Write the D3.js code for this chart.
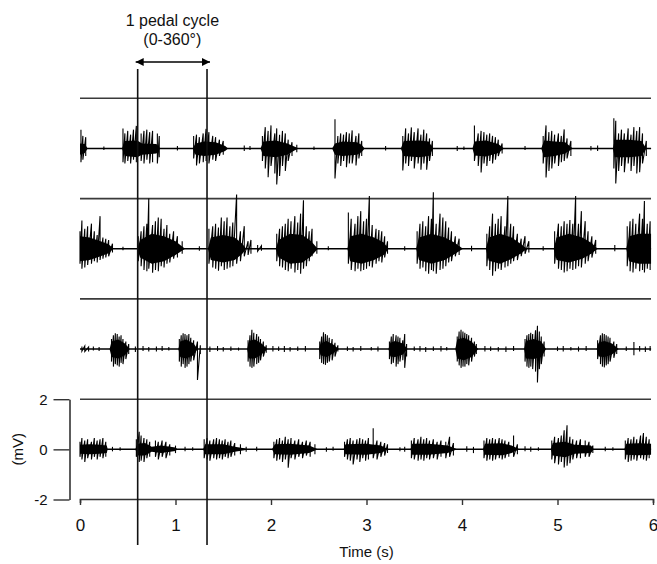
<!DOCTYPE html>
<html>
<head>
<meta charset="utf-8">
<script src="https://cdn.jsdelivr.net/npm/d3@7"></script>
<style>
  html, body { margin: 0; padding: 0; background: #fff; }
  svg { display: block; font-family: "Liberation Sans", Arial, sans-serif; }
</style>
</head>
<body>
<svg id="chart" width="657" height="564"></svg>
<script>
// ---------------- DATA ----------------
const xTicks = [0, 1, 2, 3, 4, 5, 6];
const yTicks = [-2, 0, 2];
const xLabel = "Time (s)";
const yLabel = "(mV)";
const cycleLabel = ["1 pedal cycle", "(0-360°)"];
const cycleBounds = [0.604, 1.33];   // s

// dense burst cores: [time s, upper mV, lower mV]
const trace1Env = [
  [[0,0.2,-0.25],[0.05,0.18,-0.18],[0.08,0,0]],
  [[0.44,0,0],[0.47,0.3,-0.3],[0.6,0.32,-0.35],[0.65,0.2,-0.25],[0.8,0.18,-0.2],[0.84,0,0]],
  [[1.18,0,0],[1.21,0.2,-0.25],[1.3,0.28,-0.3],[1.42,0.25,-0.25],[1.52,0.1,-0.1],[1.55,0,0]],
  [[1.89,0,0],[1.92,0.28,-0.3],[2.05,0.32,-0.35],[2.17,0.2,-0.25],[2.25,0.07,-0.07],[2.29,0,0]],
  [[2.64,0,0],[2.67,0.2,-0.25],[2.75,0.28,-0.3],[2.9,0.25,-0.25],[2.95,0.14,-0.14],[2.98,0,0]],
  [[3.36,0,0],[3.39,0.3,-0.3],[3.55,0.32,-0.35],[3.65,0.28,-0.3],[3.7,0,0]],
  [[4.11,0,0],[4.13,0.28,-0.28],[4.25,0.32,-0.32],[4.38,0.18,-0.18],[4.44,0,0]],
  [[4.83,0,0],[4.86,0.32,-0.35],[4.97,0.28,-0.3],[5.08,0.25,-0.2],[5.16,0,0]],
  [[5.58,0,0],[5.6,0.35,-0.35],[5.75,0.35,-0.35],[5.88,0.3,-0.3],[5.93,0,0]]
];
// individual spikes: [time s, peak mV, trough mV]
const trace1Spikes = [
  [0.01,0.75,-0.55],[0.03,0.5,-0.45],[0.06,0.45,-0.3],
  [0.45,0.8,-0.55],[0.47,0.6,-0.6],[0.50,0.7,-0.5],[0.53,0.55,-0.6],[0.56,0.75,-0.45],[0.59,0.9,-0.55],[0.64,0.6,-0.5],[0.67,0.7,-0.6],[0.70,0.75,-0.45],[0.73,0.65,-0.6],[0.76,0.7,-0.55],[0.81,0.6,-0.6],[0.83,0.5,-0.35],
  [1.19,0.5,-0.4],[1.22,0.55,-0.68],[1.25,0.45,-0.6],[1.29,0.6,-0.55],[1.32,0.78,-0.5],[1.35,0.65,-0.6],[1.39,0.5,-0.45],[1.42,0.45,-0.5],[1.46,0.35,-0.3],[1.50,0.3,-0.25],
  [1.91,0.5,-0.5],[1.94,0.85,-0.8],[1.97,0.7,-1.15],[2.00,0.92,-0.7],[2.04,0.6,-1.0],[2.06,0.8,-1.44],[2.09,0.55,-1.1],[2.12,0.7,-0.7],[2.15,0.6,-0.9],[2.18,0.35,-0.5],[2.22,0.25,-0.3],[2.27,0.15,-0.15],
  [2.67,1.16,-1.2],[2.70,0.5,-0.6],[2.73,0.6,-0.7],[2.76,0.55,-0.5],[2.79,0.65,-0.75],[2.82,0.6,-0.6],[2.85,0.72,-0.6],[2.89,0.5,-0.68],[2.92,0.6,-0.4],[2.95,0.3,-0.3],
  [3.38,0.5,-0.88],[3.41,0.8,-0.6],[3.44,0.6,-0.7],[3.47,0.84,-0.5],[3.50,0.65,-0.8],[3.54,0.8,-0.6],[3.57,0.55,-0.85],[3.60,0.75,-0.6],[3.63,0.6,-0.85],[3.66,0.4,-0.5],[3.69,0.3,-0.3],
  [4.13,0.92,-0.5],[4.17,0.6,-0.7],[4.20,0.7,-0.96],[4.23,0.65,-0.6],[4.26,0.55,-0.7],[4.29,0.6,-0.5],[4.32,0.5,-0.6],[4.35,0.45,-0.45],[4.38,0.35,-0.3],[4.42,0.2,-0.2],
  [4.85,0.5,-0.6],[4.88,0.92,-1.16],[4.91,0.65,-0.9],[4.94,0.7,-0.8],[4.97,0.55,-0.6],[5.01,0.6,-0.7],[5.04,0.5,-0.55],[5.07,0.76,-0.5],[5.10,0.4,-0.4],[5.14,0.3,-0.3],
  [5.59,1.2,-0.8],[5.61,1.1,-1.4],[5.64,0.6,-0.9],[5.67,0.75,-0.7],[5.70,0.6,-0.95],[5.74,0.8,-0.6],[5.77,0.55,-0.9],[5.80,0.85,-0.7],[5.83,0.7,-1.0],[5.86,0.85,-0.95],[5.89,0.6,-0.6],[5.93,0.3,-0.3],
  [0.25,0.08,-0.06],[1.02,0.1,-0.08],[1.72,0.12,-0.1],[1.78,0.1,-0.06],[2.45,0.08,-0.06],[3.2,0.1,-0.08],[3.95,0.1,-0.1],[4.02,0.08,-0.06],[4.66,0.1,-0.06],[5.35,0.1,-0.08],[5.42,0.12,-0.1]
];

const trace2Env = [
  [[0,0.5,-0.5],[0.1,0.45,-0.45],[0.2,0.32,-0.32],[0.3,0.18,-0.18],[0.35,0,0]],
  [[0.6,0,0],[0.63,0.35,-0.35],[0.75,0.6,-0.6],[0.88,0.5,-0.5],[1.0,0.3,-0.25],[1.1,0,0]],
  [[1.34,0,0],[1.37,0.45,-0.45],[1.5,0.55,-0.55],[1.62,0.45,-0.45],[1.7,0.2,-0.2],[1.74,0,0]],
  [[2.05,0,0],[2.08,0.35,-0.35],[2.2,0.6,-0.6],[2.33,0.55,-0.55],[2.42,0.3,-0.3],[2.49,0,0]],
  [[2.8,0,0],[2.83,0.5,-0.5],[2.95,0.6,-0.6],[3.08,0.45,-0.45],[3.18,0.25,-0.25],[3.23,0,0]],
  [[3.52,0,0],[3.55,0.45,-0.45],[3.68,0.6,-0.6],[3.82,0.45,-0.45],[3.92,0.25,-0.22],[4.01,0,0]],
  [[4.25,0,0],[4.28,0.45,-0.48],[4.4,0.6,-0.6],[4.52,0.45,-0.4],[4.62,0.18,-0.18],[4.68,0,0]],
  [[4.96,0,0],[4.99,0.45,-0.45],[5.12,0.6,-0.55],[5.26,0.45,-0.4],[5.36,0.22,-0.18],[5.42,0,0]],
  [[5.72,0,0],[5.75,0.5,-0.5],[5.85,0.6,-0.6],[5.98,0.6,-0.6]]
];
const trace2Spikes = [
  [0.00,0.7,-0.6],[0.02,1.13,-0.8],[0.05,0.8,-0.75],[0.08,0.9,-0.65],[0.12,1.0,-0.6],[0.15,0.7,-0.5],[0.18,0.55,-0.55],[0.21,1.3,-0.45],[0.24,0.45,-0.4],[0.27,0.4,-0.35],[0.30,0.35,-0.3],[0.34,0.2,-0.15],
  [0.61,0.5,-0.5],[0.64,0.7,-0.7],[0.67,0.9,-0.85],[0.70,1.0,-0.9],[0.72,2.0,-0.8],[0.76,0.95,-0.96],[0.79,1.1,-0.85],[0.82,1.25,-0.9],[0.85,1.2,-0.7],[0.88,0.8,-0.75],[0.91,0.95,-0.6],[0.94,0.6,-0.55],[0.98,0.7,-0.4],[1.02,0.5,-0.35],[1.07,0.3,-0.2],
  [1.35,0.8,-0.6],[1.39,0.9,-0.75],[1.42,1.0,-0.8],[1.45,0.85,-0.88],[1.48,1.25,-0.7],[1.51,1.1,-0.85],[1.54,1.25,-0.8],[1.57,0.9,-0.75],[1.60,1.05,-0.7],[1.64,2.16,-0.6],[1.68,0.7,-0.5],[1.72,0.9,-0.3],[1.76,0.3,-0.25],[1.79,0.35,-0.2],
  [2.06,0.6,-0.5],[2.09,0.8,-0.7],[2.12,0.9,-0.75],[2.15,1.0,-0.85],[2.18,1.2,-0.9],[2.21,1.1,-0.8],[2.25,1.3,-0.95],[2.28,1.05,-0.85],[2.31,1.4,-1.0],[2.34,1.93,-0.8],[2.37,0.9,-0.7],[2.40,0.7,-0.5],[2.43,0.8,-0.3],[2.48,0.3,-0.2],
  [2.81,1.45,-0.6],[2.84,1.2,-0.85],[2.88,1.0,-0.9],[2.91,1.3,-0.8],[2.94,1.5,-0.9],[2.97,1.1,-0.85],[3.00,1.2,-0.8],[3.03,2.1,-0.7],[3.06,0.95,-0.75],[3.10,0.8,-0.6],[3.13,0.75,-0.5],[3.16,0.7,-0.55],[3.19,0.5,-0.35],[3.22,0.3,-0.2],
  [3.53,0.7,-0.6],[3.56,1.0,-0.8],[3.59,1.1,-0.75],[3.62,0.9,-0.9],[3.65,1.3,-1.0],[3.68,1.2,-0.85],[3.70,2.25,-0.9],[3.73,1.0,-1.0],[3.77,1.4,-0.85],[3.80,1.25,-0.8],[3.83,1.1,-0.7],[3.86,0.85,-0.55],[3.89,0.7,-0.5],[3.93,0.5,-0.3],[3.97,0.4,-0.25],
  [4.26,0.6,-0.7],[4.29,0.9,-0.85],[4.32,1.4,-1.08],[4.35,1.0,-0.9],[4.38,1.2,-0.8],[4.41,1.3,-0.85],[4.45,0.9,-0.75],[4.48,2.1,-0.7],[4.51,1.0,-0.6],[4.54,0.9,-0.5],[4.58,0.6,-0.45],[4.62,0.4,-0.3],[4.66,0.5,-0.2],[4.70,0.3,-0.15],
  [4.97,0.7,-0.6],[5.01,1.0,-0.8],[5.04,0.9,-0.85],[5.07,1.1,-0.95],[5.10,1.0,-0.9],[5.13,1.15,-0.8],[5.16,1.0,-0.85],[5.19,2.1,-0.8],[5.22,1.0,-0.7],[5.25,1.5,-0.75],[5.29,1.1,-0.6],[5.32,0.7,-0.5],[5.36,0.5,-0.35],[5.40,0.35,-0.2],
  [5.73,0.9,-0.7],[5.76,1.1,-0.9],[5.79,1.2,-0.95],[5.82,1.0,-0.8],[5.86,1.4,-0.9],[5.89,1.2,-0.85],[5.91,1.9,-0.95],[5.94,1.0,-0.8],[5.97,1.1,-0.85],
  [0.45,0.08,-0.06],[1.25,0.1,-0.08],[1.86,0.15,-0.1],[1.9,0.12,-0.08],[2.6,0.1,-0.06],[3.4,0.1,-0.08],[4.1,0.12,-0.1],[4.85,0.1,-0.08],[5.6,0.15,-0.1]
];

const trace3Env = [
  [[0.31,0,0],[0.33,0.3,-0.32],[0.4,0.38,-0.38],[0.47,0.22,-0.25],[0.52,0,0]],
  [[1.03,0,0],[1.05,0.3,-0.32],[1.11,0.38,-0.38],[1.19,0.22,-0.25],[1.23,0,0]],
  [[1.75,0,0],[1.77,0.32,-0.38],[1.83,0.38,-0.38],[1.9,0.22,-0.22],[1.96,0,0]],
  [[2.5,0,0],[2.52,0.22,-0.25],[2.58,0.32,-0.32],[2.65,0.18,-0.18],[2.71,0,0]],
  [[3.23,0,0],[3.25,0.25,-0.3],[3.3,0.32,-0.32],[3.38,0.22,-0.22],[3.43,0,0]],
  [[3.93,0,0],[3.95,0.38,-0.38],[4.02,0.45,-0.45],[4.1,0.3,-0.32],[4.17,0,0]],
  [[4.65,0,0],[4.67,0.32,-0.38],[4.75,0.4,-0.4],[4.83,0.3,-0.32],[4.88,0,0]],
  [[5.41,0,0],[5.43,0.25,-0.3],[5.49,0.32,-0.32],[5.57,0.22,-0.22],[5.64,0,0]]
];
const trace3Spikes = [
  [0.33,0.4,-0.5],[0.35,0.55,-0.7],[0.37,0.63,-0.6],[0.39,0.6,-0.65],[0.41,0.5,-0.7],[0.43,0.55,-0.55],[0.45,0.4,-0.6],[0.48,0.3,-0.4],[0.51,0.2,-0.2],
  [1.04,0.4,-0.5],[1.06,0.55,-0.7],[1.08,0.63,-0.6],[1.10,0.6,-0.75],[1.12,0.55,-0.7],[1.14,0.6,-0.6],[1.16,0.45,-0.5],[1.19,0.35,-0.45],[1.23,0.3,-1.23],[1.26,0.15,-0.2],
  [1.76,0.35,-0.5],[1.78,0.55,-0.7],[1.80,0.77,-0.75],[1.82,0.65,-0.7],[1.85,0.6,-0.6],[1.87,0.5,-0.55],[1.89,0.4,-0.45],[1.92,0.3,-0.3],[1.95,0.15,-0.15],
  [2.51,0.3,-0.4],[2.53,0.5,-0.55],[2.55,0.67,-0.6],[2.57,0.6,-0.63],[2.59,0.55,-0.55],[2.61,0.45,-0.5],[2.64,0.4,-0.45],[2.67,0.25,-0.3],[2.70,0.15,-0.1],
  [3.24,0.3,-0.4],[3.26,0.5,-0.6],[3.28,0.6,-0.55],[3.31,0.55,-0.7],[3.33,0.5,-0.6],[3.35,0.45,-0.5],[3.38,0.35,-0.45],[3.40,0.6,-0.75],[3.42,0.2,-0.3],
  [3.95,0.5,-0.5],[3.97,0.7,-0.65],[3.99,0.77,-0.75],[4.01,0.7,-0.7],[4.03,0.65,-0.7],[4.05,0.6,-0.6],[4.07,0.55,-0.65],[4.10,0.45,-0.5],[4.13,0.3,-0.3],[4.15,0.2,-0.2],
  [4.66,0.4,-0.5],[4.68,0.55,-0.7],[4.70,0.6,-0.75],[4.72,0.65,-0.7],[4.74,0.6,-0.8],[4.77,0.75,-0.9],[4.79,0.93,-1.33],[4.81,0.7,-0.8],[4.83,0.5,-0.6],[4.86,0.3,-0.3],
  [5.42,0.35,-0.4],[5.45,0.55,-0.6],[5.47,0.63,-0.7],[5.49,0.6,-0.73],[5.51,0.55,-0.65],[5.53,0.5,-0.6],[5.55,0.45,-0.5],[5.59,0.3,-0.35],[5.62,0.2,-0.2],
  [5.80,0.28,-0.25],
  [0.02,0.1,-0.08],[0.05,0.12,-0.1],[0.09,0.08,-0.1],[0.14,0.1,-0.06],[0.2,0.08,-0.08],[0.58,0.1,-0.12],[0.66,0.12,-0.08],[0.72,0.08,-0.1],[0.8,0.1,-0.1],[0.86,0.12,-0.08],[0.93,0.08,-0.06],
  [1.36,0.1,-0.12],[1.44,0.12,-0.08],[1.5,0.08,-0.1],[1.58,0.1,-0.08],[1.66,0.06,-0.06],[2.02,0.12,-0.1],[2.08,0.1,-0.08],[2.14,0.12,-0.12],[2.2,0.08,-0.1],[2.28,0.1,-0.08],[2.36,0.12,-0.1],
  [2.8,0.1,-0.08],[2.86,0.08,-0.1],[2.94,0.12,-0.08],[3.05,0.08,-0.06],[3.12,0.1,-0.1],[3.5,0.1,-0.08],[3.56,0.12,-0.1],[3.62,0.08,-0.12],[3.7,0.1,-0.08],[3.78,0.12,-0.1],[3.84,0.08,-0.06],
  [4.24,0.12,-0.1],[4.3,0.1,-0.08],[4.38,0.08,-0.1],[4.46,0.1,-0.12],[4.54,0.12,-0.08],[5.0,0.1,-0.08],[5.06,0.12,-0.1],[5.14,0.08,-0.06],[5.22,0.1,-0.1],[5.3,0.12,-0.08],
  [5.72,0.1,-0.08],[5.86,0.12,-0.1],[5.92,0.1,-0.12],[5.97,0.12,-0.08]
];

const trace4Env = [
  [[0,0.18,-0.18],[0.1,0.2,-0.2],[0.2,0.18,-0.18],[0.28,0.15,-0.15],[0.29,0,0]],
  [[0.58,0,0],[0.6,0.22,-0.25],[0.68,0.25,-0.25],[0.75,0.1,-0.1],[0.85,0.15,-0.15],[1.0,0.07,-0.07],[1.02,0,0]],
  [[1.29,0,0],[1.31,0.2,-0.2],[1.5,0.2,-0.2],[1.62,0.1,-0.1],[1.72,0.04,-0.04],[1.76,0,0]],
  [[2.01,0,0],[2.04,0.2,-0.2],[2.2,0.22,-0.22],[2.4,0.15,-0.15],[2.49,0,0]],
  [[2.76,0,0],[2.78,0.2,-0.2],[3.0,0.22,-0.22],[3.15,0.15,-0.15],[3.23,0,0]],
  [[3.46,0,0],[3.48,0.22,-0.22],[3.65,0.22,-0.22],[3.85,0.15,-0.15],[3.95,0,0]],
  [[4.22,0,0],[4.24,0.22,-0.22],[4.42,0.24,-0.24],[4.52,0.15,-0.15],[4.6,0,0]],
  [[4.93,0,0],[4.95,0.25,-0.25],[5.08,0.3,-0.32],[5.18,0.18,-0.18],[5.35,0.15,-0.15],[5.38,0,0]],
  [[5.7,0,0],[5.72,0.22,-0.22],[5.85,0.24,-0.24],[5.98,0.22,-0.22]]
];
const trace4Spikes = [
  [0.00,0.3,-0.3],[0.02,0.45,-0.4],[0.05,0.35,-0.5],[0.08,0.4,-0.35],[0.12,0.3,-0.4],[0.15,0.45,-0.3],[0.18,0.35,-0.4],[0.21,0.4,-0.3],[0.24,0.45,-0.35],[0.27,0.3,-0.3],
  [0.59,0.4,-0.3],[0.62,0.7,-0.5],[0.64,0.55,-0.45],[0.67,0.45,-0.5],[0.70,0.4,-0.35],[0.73,0.3,-0.3],[0.79,0.35,-0.3],[0.82,0.3,-0.4],[0.86,0.35,-0.3],[0.90,0.3,-0.35],[0.94,0.2,-0.25],[1.00,0.15,-0.15],
  [1.30,0.4,-0.35],[1.33,0.45,-0.4],[1.36,0.35,-0.45],[1.40,0.4,-0.35],[1.43,0.45,-0.4],[1.46,0.4,-0.35],[1.49,0.35,-0.4],[1.52,0.4,-0.3],[1.55,0.3,-0.35],[1.58,0.35,-0.3],[1.62,0.25,-0.25],[1.68,0.2,-0.2],[1.74,0.1,-0.1],
  [2.03,0.3,-0.35],[2.06,0.4,-0.45],[2.09,0.45,-0.4],[2.12,0.35,-0.5],[2.15,0.5,-0.4],[2.18,0.4,-0.73],[2.21,0.45,-0.35],[2.25,0.35,-0.4],[2.29,0.4,-0.3],[2.33,0.3,-0.35],[2.37,0.35,-0.25],[2.41,0.3,-0.3],[2.46,0.2,-0.2],
  [2.77,0.3,-0.3],[2.80,0.4,-0.4],[2.83,0.45,-0.45],[2.86,0.35,-0.6],[2.90,0.4,-0.4],[2.93,0.45,-0.5],[2.96,0.4,-0.35],[2.99,0.35,-0.45],[3.02,0.45,-0.4],[3.07,0.84,-0.35],[3.11,0.35,-0.4],[3.15,0.3,-0.3],[3.19,0.25,-0.25],[3.22,0.2,-0.15],
  [3.47,0.35,-0.35],[3.50,0.45,-0.4],[3.54,0.4,-0.45],[3.57,0.5,-0.4],[3.60,0.4,-0.45],[3.63,0.45,-0.35],[3.66,0.35,-0.4],[3.70,0.4,-0.35],[3.74,0.3,-0.4],[3.78,0.35,-0.3],[3.83,0.3,-0.35],[3.87,0.5,-0.3],[3.91,0.25,-0.25],
  [4.23,0.35,-0.35],[4.26,0.45,-0.45],[4.29,0.4,-0.4],[4.32,0.45,-0.45],[4.35,0.4,-0.4],[4.39,0.45,-0.35],[4.42,0.4,-0.4],[4.45,0.35,-0.35],[4.49,0.3,-0.3],[4.54,0.55,-0.3],[4.58,0.2,-0.2],
  [4.94,0.35,-0.4],[4.97,0.5,-0.55],[5.01,0.45,-0.6],[5.04,0.55,-0.5],[5.07,0.76,-0.72],[5.10,0.96,-0.65],[5.13,0.5,-0.55],[5.16,0.4,-0.4],[5.20,0.35,-0.35],[5.24,0.4,-0.35],[5.29,0.35,-0.3],[5.33,0.3,-0.3],[5.37,0.15,-0.15],
  [5.71,0.35,-0.4],[5.74,0.45,-0.5],[5.77,0.4,-0.45],[5.80,0.5,-0.4],[5.83,0.4,-0.45],[5.87,0.55,-0.35],[5.90,0.65,-0.4],[5.93,0.5,-0.45],[5.96,0.4,-0.35],
  [0.34,0.1,-0.08],[0.42,0.08,-0.06],[1.1,0.1,-0.08],[1.18,0.08,-0.06],[1.85,0.1,-0.08],[2.58,0.08,-0.1],[2.65,0.1,-0.06],[3.35,0.08,-0.08],[3.4,0.1,-0.1],[4.05,0.12,-0.1],[4.12,0.1,-0.15],[4.66,0.12,-0.08],[4.72,0.1,-0.1],[4.8,0.08,-0.06],[5.5,0.1,-0.08],[5.58,0.08,-0.06]
];

const traces = [
  {env: trace1Env, spikes: trace1Spikes},
  {env: trace2Env, spikes: trace2Spikes},
  {env: trace3Env, spikes: trace3Spikes},
  {env: trace4Env, spikes: trace4Spikes}
];

// ---------------- LAYOUT ----------------
const svg = d3.select("#chart");
const x = d3.scaleLinear().domain([0, 6]).range([80, 653]);
const panelTop0 = 98.3, panelH = 100.3;
const yFor = i => d3.scaleLinear().domain([-2, 2]).range([panelTop0 + panelH * (i + 1), panelTop0 + panelH * i]);
const fmt = d => String(d);

// separator lines (at +2 mV of each panel)
traces.forEach((tr, i) => {
  const y = yFor(i);
  svg.append("line")
    .attr("x1", x(0)).attr("x2", x(6) - 2)
    .attr("y1", y(2)).attr("y2", y(2))
    .attr("stroke", "#3a3a3a").attr("stroke-width", 1.6);
});

// group spikes into runs (a new run starts after a gap longer than 0.045 s)
function runs(spikes) {
  const s = spikes.slice().sort((a, b) => a[0] - b[0]);
  const out = [];
  let cur = [];
  s.forEach(d => {
    if (cur.length && d[0] - cur[cur.length - 1][0] > 0.045) { out.push(cur); cur = []; }
    cur.push(d);
  });
  if (cur.length) out.push(cur);
  return out;
}

// traces
traces.forEach((tr, i) => {
  const y = yFor(i);
  const g = svg.append("g");
  // baseline
  g.append("path")
    .datum([[0, 0], [5.98, 0]])
    .attr("d", d3.line().x(d => x(d[0])).y(d => y(d[1])))
    .attr("stroke", "#000").attr("stroke-width", 1.5).attr("fill", "none");
  // burst cores
  const area = d3.area().x(d => x(d[0])).y0(d => y(d[2])).y1(d => y(d[1]));
  g.selectAll("path.core").data(tr.env).join("path")
    .attr("class", "core")
    .attr("d", area)
    .attr("fill", "#000");
  // spikes: each spike peak -> trough, then on to the next spike's peak
  const zig = d3.line().x(p => x(p[0])).y(p => y(p[1]));
  g.selectAll("path.spk").data(runs(tr.spikes)).join("path")
    .attr("class", "spk")
    .attr("d", run => zig(run.flatMap(d => [[d[0], d[1]], [d[0], d[2]]])))
    .attr("fill", "none")
    .attr("stroke", "#000").attr("stroke-width", 1.1).attr("stroke-linejoin", "miter");
});

// x axis (bottom of last panel)
const yLast = yFor(3);
const xAxis = svg.append("g")
  .attr("transform", `translate(0,${yLast(-2) - 0.5})`)
  .call(d3.axisBottom(x).tickValues(xTicks).tickFormat(fmt)
        .tickSize(6).tickSizeOuter(4).tickPadding(14));
xAxis.select(".domain").attr("stroke", "#333").attr("stroke-width", 1.6);
xAxis.selectAll(".tick line").attr("stroke", "#333").attr("stroke-width", 1.4);
xAxis.selectAll(".tick text").attr("font-size", 17).attr("fill", "#111")
  .attr("font-family", "'Liberation Sans', Arial, sans-serif");

// y axis bracket
const yAxis = svg.append("g")
  .attr("transform", `translate(69.5,0)`)
  .call(d3.axisLeft(yLast).tickValues(yTicks).tickFormat(fmt)
        .tickSize(16).tickSizeOuter(0).tickPadding(6));
yAxis.select(".domain").attr("stroke", "#333").attr("stroke-width", 1.6);
yAxis.selectAll(".tick line").attr("stroke", "#333").attr("stroke-width", 1.4);
yAxis.selectAll(".tick text").attr("font-size", 15).attr("fill", "#111")
  .attr("font-family", "'Liberation Sans', Arial, sans-serif");

// y label
svg.append("text")
  .attr("transform", `translate(23,${yLast(0)}) rotate(-90)`)
  .attr("text-anchor", "middle")
  .attr("font-size", 15).attr("fill", "#111")
  .text(yLabel);

// x label
svg.append("text")
  .attr("x", (x(0) + x(6)) / 2).attr("y", 557)
  .attr("text-anchor", "middle")
  .attr("font-size", 15).attr("fill", "#111")
  .text(xLabel);

// pedal cycle markers
svg.selectAll("line.cycle").data(cycleBounds).join("line")
  .attr("class", "cycle")
  .attr("x1", d => x(d)).attr("x2", d => x(d))
  .attr("y1", 69).attr("y2", 545)
  .attr("stroke", "#111").attr("stroke-width", 1.6);

// double arrow
const defs = svg.append("defs");
defs.append("marker").attr("id", "ah").attr("viewBox", "0 0 10 10")
  .attr("refX", 10).attr("refY", 5).attr("markerWidth", 9).attr("markerHeight", 8)
  .attr("markerUnits", "userSpaceOnUse").attr("orient", "auto-start-reverse")
  .append("path").attr("d", "M0,0 L10,5 L0,10 Z").attr("fill", "#000");
svg.append("line")
  .attr("x1", x(cycleBounds[0]) - 2).attr("x2", x(cycleBounds[1]) + 3)
  .attr("y1", 62).attr("y2", 62)
  .attr("stroke", "#000").attr("stroke-width", 1.5)
  .attr("marker-start", "url(#ah)").attr("marker-end", "url(#ah)");

const cx = (x(cycleBounds[0]) + x(cycleBounds[1])) / 2;
svg.selectAll("text.cyc").data(cycleLabel).join("text")
  .attr("class", "cyc")
  .attr("x", cx).attr("y", (d, i) => 26 + i * 19)
  .attr("text-anchor", "middle")
  .attr("font-size", 16).attr("fill", "#111")
  .text(d => d);
</script>
</body>
</html>
